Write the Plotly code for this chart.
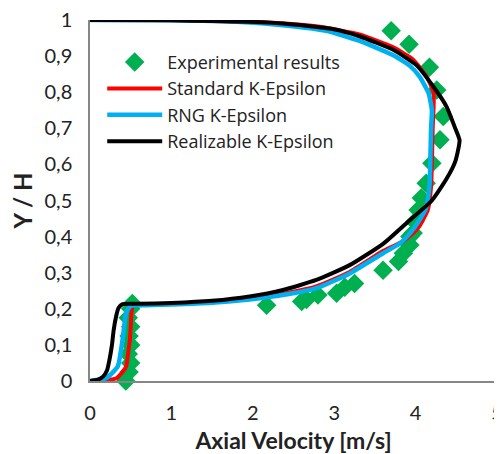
import plotly.graph_objects as go

# Experimental results (axial velocity m/s, Y/H)
exp_v = [0.44, 0.48, 0.50, 0.47, 0.50, 0.48, 0.50, 0.47, 0.50, 0.52,
         2.17, 2.60, 2.66, 2.80, 3.03, 3.13, 3.25, 3.60, 3.79, 3.85,
         3.93, 3.93, 3.97, 3.99, 4.03, 4.07, 4.13, 4.20, 4.30, 4.34,
         4.26, 4.17, 3.92, 3.70]
exp_y = [0.00, 0.025, 0.05, 0.075, 0.10, 0.125, 0.15, 0.175, 0.20, 0.215,
         0.21, 0.22, 0.226, 0.238, 0.243, 0.26, 0.27, 0.307, 0.331, 0.354,
         0.377, 0.40, 0.41, 0.441, 0.474, 0.507, 0.548, 0.603, 0.668, 0.733,
         0.806, 0.869, 0.933, 0.970]

# Standard K-Epsilon
std_v = [0.0, 0.15, 0.32, 0.40, 0.445, 0.47, 0.49, 0.50, 0.51, 0.53, 0.7, 1.0, 1.5,
         1.96, 2.37, 2.78, 3.19, 3.60, 3.83, 3.97, 4.05, 4.15, 4.19, 4.20, 4.21,
         4.22, 4.13, 3.97, 3.72, 3.31, 2.8, 2.2, 1.5, 0.8, 0.0]
std_y = [0.0, 0.002, 0.007, 0.025, 0.04, 0.08, 0.114, 0.15, 0.19, 0.208, 0.211, 0.213, 0.218,
         0.228, 0.242, 0.262, 0.302, 0.36, 0.385, 0.41, 0.43, 0.474, 0.538, 0.60, 0.70,
         0.80, 0.845, 0.89, 0.925, 0.96, 0.982, 0.993, 0.998, 1.0, 1.0]

# RNG K-Epsilon
rng_v = [0.0, 0.2, 0.34, 0.40, 0.445, 0.50, 0.7, 1.0, 1.5, 1.96, 2.37, 2.78, 3.19,
         3.60, 3.80, 3.93, 4.03, 4.13, 4.17, 4.18, 4.19, 4.20, 4.16, 4.05, 3.93,
         3.72, 3.31, 2.9, 2.4, 1.8, 1.0, 0.0]
rng_y = [0.0, 0.008, 0.04, 0.114, 0.19, 0.208, 0.21, 0.212, 0.217, 0.226, 0.238, 0.257, 0.298,
         0.354, 0.38, 0.409, 0.44, 0.48, 0.54, 0.60, 0.70, 0.75, 0.797, 0.843, 0.873,
         0.903, 0.942, 0.97, 0.985, 0.995, 0.999, 1.0]

# Realizable K-Epsilon
rea_v = [0.0, 0.1, 0.16, 0.21, 0.24, 0.27, 0.29, 0.32, 0.35, 0.40, 0.6, 1.0, 1.5,
         1.96, 2.37, 2.78, 3.19, 3.60, 3.90, 4.20, 4.38, 4.49, 4.54, 4.48, 4.38,
         4.22, 4.01, 3.72, 3.31, 2.98, 2.37, 1.96, 1.5, 1.0, 0.0]
rea_y = [0.0, 0.004, 0.012, 0.03, 0.06, 0.10, 0.14, 0.178, 0.202, 0.213, 0.214, 0.216, 0.222,
         0.234, 0.252, 0.28, 0.321, 0.38, 0.44, 0.50, 0.56, 0.61, 0.667, 0.704, 0.76,
         0.815, 0.875, 0.918, 0.955, 0.975, 0.99, 0.995, 0.997, 0.999, 1.0]

x_ticks = [0, 1, 2, 3, 4, 5]
y_tick_vals = [0, 0.1, 0.2, 0.3, 0.4, 0.5, 0.6, 0.7, 0.8, 0.9, 1]
y_tick_text = ["0", "0,1", "0,2", "0,3", "0,4", "0,5", "0,6", "0,7", "0,8", "0,9", "1"]

FONT = "Lato, 'Open Sans', sans-serif"
TXT = "#222222"

fig = go.Figure()
fig.add_trace(go.Scatter(x=exp_v, y=exp_y, mode="markers", name="Experimental results",
                         marker=dict(symbol="diamond", size=15, color="#00B050"),
                         cliponaxis=False))
fig.add_trace(go.Scatter(x=std_v, y=std_y, mode="lines", name="Standard K-Epsilon",
                         line=dict(color="#FF0000", width=4, shape="spline", smoothing=0.5),
                         cliponaxis=False))
fig.add_trace(go.Scatter(x=rng_v, y=rng_y, mode="lines", name="RNG K-Epsilon",
                         line=dict(color="#00B0F0", width=4.5, shape="spline", smoothing=0.5),
                         cliponaxis=False))
fig.add_trace(go.Scatter(x=rea_v, y=rea_y, mode="lines", name="Realizable K-Epsilon",
                         line=dict(color="#000000", width=4, shape="spline", smoothing=0.5),
                         cliponaxis=False))

# the page body adds an 8px offset, so the figure is sized/margined to compensate
fig.update_layout(
    width=494, height=446,
    margin=dict(l=82, r=5, t=12, b=73, autoexpand=False),
    paper_bgcolor="white", plot_bgcolor="white",
    font=dict(family=FONT, size=20, color=TXT),
    showlegend=True,
    legend=dict(x=0.03, y=0.934, xanchor="left", yanchor="top",
                bgcolor="rgba(0,0,0,0)",
                font=dict(family="'Open Sans', Lato, sans-serif", size=18, color=TXT),
                itemwidth=55, tracegroupgap=0),
    xaxis=dict(range=[0, 5], tickvals=x_ticks, ticktext=[str(t) for t in x_ticks],
               showgrid=False, zeroline=False, showline=True, linecolor="#868686",
               linewidth=1.5, ticks="", ticklabelstandoff=13, automargin=False,
               ticklabeloverflow="allow",
               title=dict(text="<b>Axial Velocity [m/s]</b>", font=dict(size=23, color=TXT),
                          standoff=10)),
    yaxis=dict(range=[0, 1], tickvals=y_tick_vals, ticktext=y_tick_text,
               showgrid=False, zeroline=False, showline=True, linecolor="#868686",
               linewidth=1.5, ticks="", ticklabelstandoff=12, automargin=False,
               ticklabeloverflow="allow",
               title=dict(text="<b>Y / H</b>", font=dict(size=24, color=TXT),
                          standoff=13)),
)

fig.write_html("out.html")
